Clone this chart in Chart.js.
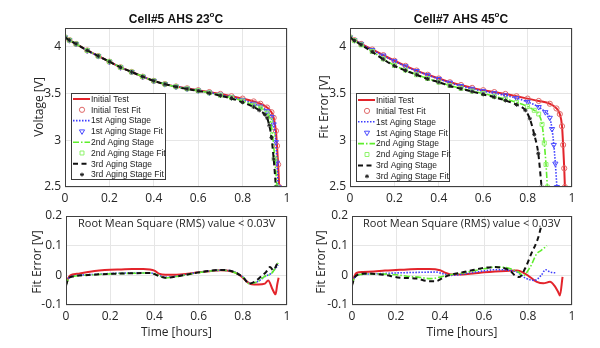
<!DOCTYPE html>
<html>
<head>
<meta charset="utf-8">
<script src="https://cdn.jsdelivr.net/npm/chart.js@4.4.1/dist/chart.umd.min.js"></script>
<style>
  body { margin: 0; background: #fff; }
  #wrap { position: relative; width: 600px; height: 348px; }
  #wrap canvas { position: absolute; left: 0; top: 0; }
</style>
</head>
<body>
<div id="wrap">
  <canvas id="volt23" width="600" height="348"></canvas>
  <canvas id="volt45" width="600" height="348"></canvas>
  <canvas id="err23" width="600" height="348"></canvas>
  <canvas id="err45" width="600" height="348"></canvas>
</div>
<script>
// ---- series names / ticks ----
const stageNames = ['Initial Test', '1st Aging Stage', '2nd Aging Stage', '3rd Aging Stage'];
const xTicks = [0, 0.2, 0.4, 0.6, 0.8, 1];
const voltTicks = [2.5, 3, 3.5, 4];
const errTicks = [-0.1, 0, 0.1, 0.2];
const rmsNote = 'Root Mean Square (RMS) value < 0.03V';

// ---- Cell#5, 23C: voltage [V] vs time [hours] ----
const c5InitT = [0, 0.02, 0.05, 0.1, 0.15, 0.2, 0.25, 0.3, 0.35, 0.4, 0.45, 0.5, 0.55, 0.6, 0.65, 0.7, 0.75, 0.8, 0.85, 0.88, 0.91, 0.93, 0.94, 0.95, 0.955, 0.96, 0.965];
const c5InitV = [4.10, 4.07, 4.03, 3.96, 3.90, 3.84, 3.78, 3.73, 3.68, 3.635, 3.6, 3.575, 3.555, 3.535, 3.515, 3.495, 3.47, 3.445, 3.415, 3.39, 3.35, 3.3, 3.24, 3.1, 2.94, 2.74, 2.5];
const c5Age1T = [0, 0.02, 0.05, 0.1, 0.15, 0.2, 0.25, 0.3, 0.35, 0.4, 0.45, 0.5, 0.55, 0.6, 0.65, 0.7, 0.75, 0.8, 0.85, 0.88, 0.91, 0.93, 0.94, 0.95, 0.955, 0.96];
const c5Age1V = [4.10, 4.07, 4.03, 3.96, 3.90, 3.84, 3.78, 3.73, 3.68, 3.635, 3.6, 3.573, 3.552, 3.532, 3.51, 3.487, 3.46, 3.43, 3.39, 3.36, 3.31, 3.25, 3.17, 2.98, 2.76, 2.5];
const c5Age2T = [0, 0.02, 0.05, 0.1, 0.15, 0.2, 0.25, 0.3, 0.35, 0.4, 0.45, 0.5, 0.55, 0.6, 0.65, 0.7, 0.75, 0.8, 0.85, 0.88, 0.91, 0.925, 0.935, 0.945, 0.955];
const c5Age2V = [4.10, 4.07, 4.03, 3.96, 3.90, 3.84, 3.78, 3.73, 3.68, 3.635, 3.6, 3.572, 3.55, 3.53, 3.507, 3.482, 3.455, 3.42, 3.375, 3.345, 3.29, 3.21, 3.06, 2.8, 2.5];
const c5Age3T = [0, 0.02, 0.05, 0.1, 0.15, 0.2, 0.25, 0.3, 0.35, 0.4, 0.45, 0.5, 0.55, 0.6, 0.65, 0.7, 0.75, 0.8, 0.85, 0.875, 0.9, 0.91, 0.92, 0.93, 0.94, 0.95];
const c5Age3V = [4.10, 4.07, 4.03, 3.96, 3.90, 3.84, 3.78, 3.73, 3.68, 3.635, 3.6, 3.571, 3.548, 3.527, 3.503, 3.476, 3.447, 3.405, 3.355, 3.32, 3.275, 3.24, 3.16, 3.03, 2.8, 2.5];

// ---- Cell#7, 45C: voltage [V] vs time [hours] ----
const c7InitT = [0, 0.02, 0.05, 0.1, 0.15, 0.2, 0.25, 0.3, 0.35, 0.4, 0.45, 0.5, 0.55, 0.6, 0.65, 0.7, 0.75, 0.8, 0.85, 0.9, 0.93, 0.945, 0.955, 0.96, 0.965, 0.968];
const c7InitV = [4.10, 4.07, 4.03, 3.97, 3.91, 3.85, 3.795, 3.745, 3.70, 3.66, 3.62, 3.59, 3.56, 3.535, 3.515, 3.495, 3.47, 3.445, 3.42, 3.39, 3.34, 3.28, 3.15, 2.95, 2.7, 2.5];
const c7Age1T = [0, 0.02, 0.05, 0.1, 0.15, 0.2, 0.25, 0.3, 0.35, 0.4, 0.45, 0.5, 0.55, 0.6, 0.65, 0.7, 0.75, 0.8, 0.85, 0.88, 0.9, 0.91, 0.918, 0.925, 0.932];
const c7Age1V = [4.10, 4.07, 4.03, 3.965, 3.905, 3.845, 3.79, 3.74, 3.695, 3.655, 3.615, 3.58, 3.55, 3.525, 3.503, 3.48, 3.45, 3.41, 3.355, 3.3, 3.24, 3.12, 2.95, 2.75, 2.5];
const c7Age2T = [0, 0.02, 0.05, 0.1, 0.15, 0.2, 0.25, 0.3, 0.35, 0.4, 0.45, 0.5, 0.55, 0.6, 0.65, 0.7, 0.75, 0.8, 0.83, 0.85, 0.865, 0.875, 0.883, 0.889];
const c7Age2V = [4.10, 4.065, 4.02, 3.95, 3.87, 3.80, 3.75, 3.70, 3.66, 3.62, 3.585, 3.555, 3.525, 3.5, 3.47, 3.44, 3.405, 3.36, 3.32, 3.28, 3.17, 2.97, 2.74, 2.5];
const c7Age3T = [0, 0.02, 0.05, 0.1, 0.15, 0.2, 0.25, 0.3, 0.35, 0.4, 0.45, 0.5, 0.55, 0.6, 0.65, 0.7, 0.75, 0.79, 0.81, 0.83, 0.848, 0.863];
const c7Age3V = [4.10, 4.065, 4.02, 3.945, 3.865, 3.795, 3.745, 3.70, 3.655, 3.62, 3.58, 3.55, 3.52, 3.49, 3.46, 3.425, 3.38, 3.32, 3.23, 3.06, 2.86, 2.5];

// ---- Cell#5, 23C: fit error [V] ----
const e5InitT = [0, 0.01, 0.02, 0.05, 0.1, 0.15, 0.2, 0.25, 0.3, 0.35, 0.38, 0.4, 0.42, 0.45, 0.5, 0.55, 0.6, 0.65, 0.7, 0.75, 0.78, 0.8, 0.82, 0.84, 0.87, 0.9, 0.915, 0.935, 0.948, 0.956, 0.962];
const e5InitV = [-0.03, -0.01, 0.0, 0.005, 0.011, 0.016, 0.019, 0.02, 0.021, 0.021, 0.02, 0.016, 0.006, 0.002, 0.002, 0.005, 0.01, 0.014, 0.017, 0.013, 0.004, -0.008, -0.022, -0.03, -0.031, -0.028, -0.017, -0.048, -0.064, -0.03, -0.008];
const e5AgeT = [0, 0.01, 0.03, 0.1, 0.2, 0.3, 0.38, 0.42, 0.45, 0.5, 0.6, 0.7, 0.75, 0.8, 0.83, 0.87, 0.9, 0.93, 0.96];
const e5Age1V = [-0.03, -0.012, -0.003, 0.002, 0.006, 0.008, 0.008, 0.0, -0.007, -0.003, 0.01, 0.017, 0.014, -0.005, -0.027, -0.02, -0.004, 0.008, 0.035];
const e5Age2V = [-0.032, -0.013, -0.004, 0.001, 0.005, 0.007, 0.008, -0.001, -0.008, -0.004, 0.009, 0.017, 0.013, -0.006, -0.028, -0.02, -0.003, 0.006, 0.042];
const e5Age3T = [0, 0.01, 0.03, 0.1, 0.2, 0.3, 0.38, 0.42, 0.45, 0.5, 0.6, 0.7, 0.75, 0.8, 0.83, 0.86, 0.88, 0.905, 0.923, 0.938, 0.956];
const e5Age3V = [-0.035, -0.012, -0.004, 0.001, 0.005, 0.007, 0.008, -0.002, -0.008, -0.004, 0.01, 0.018, 0.014, -0.006, -0.028, -0.018, -0.006, 0.011, 0.028, 0.017, 0.04];

// ---- Cell#7, 45C: fit error [V] ----
const e7InitT = [0, 0.01, 0.02, 0.05, 0.1, 0.15, 0.2, 0.25, 0.3, 0.35, 0.4, 0.42, 0.45, 0.5, 0.55, 0.6, 0.65, 0.7, 0.75, 0.79, 0.82, 0.84, 0.87, 0.9, 0.92, 0.937, 0.945, 0.957];
const e7InitV = [-0.03, -0.005, 0.008, 0.011, 0.013, 0.016, 0.018, 0.02, 0.021, 0.021, 0.017, 0.01, 0.003, 0.003, 0.006, 0.01, 0.013, 0.015, 0.016, 0.004, -0.012, -0.022, -0.027, -0.022, -0.035, -0.056, -0.068, -0.005];
const e7Age1T = [0, 0.01, 0.03, 0.1, 0.2, 0.3, 0.38, 0.42, 0.45, 0.5, 0.55, 0.6, 0.65, 0.7, 0.75, 0.79, 0.83, 0.86, 0.88, 0.9, 0.93];
const e7Age1V = [-0.03, -0.01, 0.002, 0.005, 0.008, 0.01, 0.011, 0.004, 0.0, 0.004, 0.01, 0.015, 0.019, 0.018, 0.011, -0.01, -0.017, 0.0, 0.019, 0.011, 0.008];
const e7Age2T = [0, 0.01, 0.03, 0.1, 0.2, 0.25, 0.3, 0.355, 0.4, 0.43, 0.5, 0.55, 0.6, 0.65, 0.7, 0.72, 0.756, 0.779, 0.81, 0.84, 0.86, 0.886];
const e7Age2V = [-0.03, -0.01, 0.002, 0.005, 0.002, -0.003, -0.006, -0.011, -0.006, 0.0, 0.008, 0.015, 0.022, 0.028, 0.026, 0.022, 0.011, 0.0, 0.028, 0.073, 0.084, 0.1];
const e7Age3T = [0, 0.01, 0.03, 0.066, 0.143, 0.218, 0.294, 0.34, 0.38, 0.415, 0.44, 0.5, 0.55, 0.6, 0.65, 0.7, 0.72, 0.74, 0.76, 0.786, 0.815, 0.845, 0.86];
const e7Age3V = [-0.035, -0.01, 0.003, 0.006, 0.002, -0.008, -0.011, -0.019, -0.02, -0.008, 0.0, 0.01, 0.018, 0.025, 0.028, 0.022, 0.015, 0.0, -0.006, 0.022, 0.073, 0.124, 0.165];

// line style per stage, then marker style for its fit
const lineStyles = [
  { color: '#e3242b', width: 2, dash: [] },
  { color: '#3b3bff', width: 1.6, dash: [1.5, 1.5] },
  { color: '#5eee2c', width: 1.6, dash: [6, 2, 1.5, 2] },
  { color: '#111111', width: 2, dash: [5, 3.5] }
];
const fitMarks = [
  { style: 'circle', color: '#e06868', radius: 2.6, rot: 0 },
  { style: 'triangle', color: '#4a4aff', radius: 3, rot: 180 },
  { style: 'rect', color: '#8ef46a', radius: 2.8, rot: 0 },
  { style: 'star', color: '#222222', radius: 2, rot: 0 }
];

function pts(ts, vs) {
  return ts.map((t, i) => ({ x: t, y: vs[i] }));
}

function lineSet(k, data) {
  const s = lineStyles[k];
  return {
    label: stageNames[k], data, showLine: true,
    borderColor: s.color, borderWidth: s.width, borderDash: s.dash,
    pointRadius: 0, cubicInterpolationMode: 'monotone', fill: false
  };
}

function fitSet(k, data) {
  const m = fitMarks[k];
  return {
    label: stageNames[k] + ' Fit', data, showLine: false,
    pointStyle: m.style, pointRotation: m.rot, pointRadius: m.radius,
    pointBorderColor: m.color, pointBackgroundColor: 'rgba(0,0,0,0)', pointBorderWidth: 1
  };
}

function stack(list) {
  // later datasets are drawn on top, like a plot with hold on
  list.forEach((ds, i) => { ds.order = -i; });
  return list;
}

// titles, frame, notes and the boxed legend
const decor = {
  id: 'decor',
  beforeDatasetsDraw(chart, args, o) {
    if (!o.note) return;
    const ctx = chart.ctx;
    ctx.save();
    ctx.font = '11px "Open Sans"';
    ctx.fillStyle = '#1e1e1e';
    ctx.textBaseline = 'middle';
    ctx.fillText(o.note, o.noteX, o.noteY);
    ctx.restore();
  },
  afterDraw(chart, args, o) {
    const { ctx, chartArea: a } = chart;
    ctx.save();
    ctx.strokeStyle = '#404040';
    ctx.lineWidth = 1;
    ctx.setLineDash([]);
    ctx.strokeRect(a.left + 0.5, a.top + 0.5, a.width - 1, a.height - 1);

    ctx.fillStyle = '#262626';
    ctx.font = '12px "Open Sans"';
    ctx.textAlign = 'center';
    ctx.textBaseline = 'middle';
    if (o.xTitle) ctx.fillText(o.xTitle, (a.left + a.right) / 2, o.xTitleY);
    if (o.yTitle) {
      ctx.save();
      ctx.translate(o.yTitleX, o.yTitleY);
      ctx.rotate(-Math.PI / 2);
      ctx.fillText(o.yTitle, 0, 0);
      ctx.restore();
    }

    if (o.title) {
      const [main, sup, tail] = o.title;
      ctx.fillStyle = '#111';
      ctx.textAlign = 'left';
      ctx.font = 'bold 12px "Liberation Sans"';
      const w1 = ctx.measureText(main).width;
      const w3 = ctx.measureText(tail).width;
      ctx.font = 'bold 8px "Liberation Sans"';
      const w2 = ctx.measureText(sup).width;
      let x = (a.left + a.right) / 2 - (w1 + w2 + w3) / 2;
      ctx.font = 'bold 12px "Liberation Sans"';
      ctx.fillText(main, x, 20);
      ctx.font = 'bold 8px "Liberation Sans"';
      ctx.fillText(sup, x + w1, 15);
      ctx.font = 'bold 12px "Liberation Sans"';
      ctx.fillText(tail, x + w1 + w2, 20);
    }

    if (o.legend) {
      const L = o.legend;
      ctx.fillStyle = '#fff';
      ctx.fillRect(L.x, L.y, L.w, L.h);
      ctx.strokeStyle = '#3a3a3a';
      ctx.strokeRect(L.x + 0.5, L.y + 0.5, L.w - 1, L.h - 1);
      ctx.font = '8.5px "Liberation Sans"';
      ctx.textAlign = 'left';
      chart.data.datasets.forEach((ds, i) => {
        const y = L.y + L.row0 + i * L.step;
        if (ds.showLine) {
          ctx.save();
          ctx.strokeStyle = ds.borderColor;
          ctx.lineWidth = ds.borderWidth;
          ctx.setLineDash(ds.borderDash);
          ctx.beginPath();
          ctx.moveTo(L.x + 2, y);
          ctx.lineTo(L.x + 19, y);
          ctx.stroke();
          ctx.restore();
        } else {
          ctx.save();
          ctx.strokeStyle = ds.pointBorderColor;
          ctx.fillStyle = ds.pointBackgroundColor;
          ctx.lineWidth = ds.pointBorderWidth;
          Chart.helpers.drawPoint(ctx, {
            pointStyle: ds.pointStyle, rotation: ds.pointRotation,
            radius: ds.pointRadius, borderWidth: ds.pointBorderWidth
          }, L.x + 11, y);
          ctx.restore();
        }
        ctx.fillStyle = '#1a1a1a';
        ctx.fillText(ds.label, L.x + 20, y + 0.5);
      });
    }
    ctx.restore();
  }
};

// box = pixel edges of the plotting area
function panelOptions(box, yMin, yMax, yTickList, decorOpts) {
  const tickFont = { family: 'Open Sans', size: 12 };
  return {
    responsive: false,
    animation: false,
    events: [],
    layout: {
      autoPadding: false,
      padding: { left: box.left - 40, right: 600 - box.right, top: box.top, bottom: 348 - box.bottom - 20 }
    },
    plugins: { legend: { display: false }, tooltip: { enabled: false }, decor: decorOpts },
    scales: {
      x: {
        type: 'linear', min: 0, max: 1,
        afterBuildTicks: s => { s.ticks = xTicks.map(v => ({ value: v })); },
        afterFit: s => { s.height = 20; },
        grid: { color: '#e6e6e6', drawTicks: false },
        border: { display: false },
        ticks: { padding: 4, color: '#262626', font: tickFont, maxRotation: 0, callback: v => String(v) }
      },
      y: {
        type: 'linear', min: yMin, max: yMax,
        afterBuildTicks: s => { s.ticks = yTickList.map(v => ({ value: v })); },
        afterFit: s => { s.width = 40; },
        grid: { color: '#e6e6e6', drawTicks: false },
        border: { display: false },
        ticks: { padding: 4, color: '#262626', font: tickFont, callback: v => String(v) }
      }
    }
  };
}

function voltChart(id, box, series, title, yTitle, yTitleX, legend) {
  const sets = [];
  series.forEach((d, k) => {
    sets.push(lineSet(k, d));
    sets.push(fitSet(k, d));
  });
  return new Chart(document.getElementById(id), {
    type: 'scatter',
    data: { datasets: stack(sets) },
    options: panelOptions(box, 2.5, 4.2, voltTicks, {
      title, yTitle, yTitleX, yTitleY: 107, legend
    }),
    plugins: [decor]
  });
}

function errChart(id, box, series, yTitleX, noteX) {
  return new Chart(document.getElementById(id), {
    type: 'scatter',
    data: { datasets: stack(series.map((d, k) => lineSet(k, d))) },
    options: panelOptions(box, -0.1, 0.2, errTicks, {
      xTitle: 'Time [hours]', xTitleY: 333,
      yTitle: 'Fit Error [V]', yTitleX, yTitleY: 262,
      note: rmsNote, noteX, noteY: 224
    }),
    plugins: [decor]
  });
}

voltChart('volt23', { left: 65, right: 287, top: 28, bottom: 187 },
  [pts(c5InitT, c5InitV), pts(c5Age1T, c5Age1V), pts(c5Age2T, c5Age2V), pts(c5Age3T, c5Age3V)],
  ['Cell#5 AHS 23', 'o', 'C'], 'Voltage [V]', 40,
  { x: 71, y: 93, w: 95, h: 87, row0: 6, step: 10.8 });

voltChart('volt45', { left: 350, right: 572, top: 28, bottom: 187 },
  [pts(c7InitT, c7InitV), pts(c7Age1T, c7Age1V), pts(c7Age2T, c7Age2V), pts(c7Age3T, c7Age3V)],
  ['Cell#7 AHS 45', 'o', 'C'], 'Fit Error [V]', 325,
  { x: 356, y: 93, w: 94, h: 89, row0: 7, step: 10.9 });

errChart('err23', { left: 66, right: 287, top: 216, bottom: 305 },
  [pts(e5InitT, e5InitV), pts(e5AgeT, e5Age1V), pts(e5AgeT, e5Age2V), pts(e5Age3T, e5Age3V)],
  38, 78);

errChart('err45', { left: 352, right: 572, top: 216, bottom: 305 },
  [pts(e7InitT, e7InitV), pts(e7Age1T, e7Age1V), pts(e7Age2T, e7Age2V), pts(e7Age3T, e7Age3V)],
  322, 363);
</script>
</body>
</html>
